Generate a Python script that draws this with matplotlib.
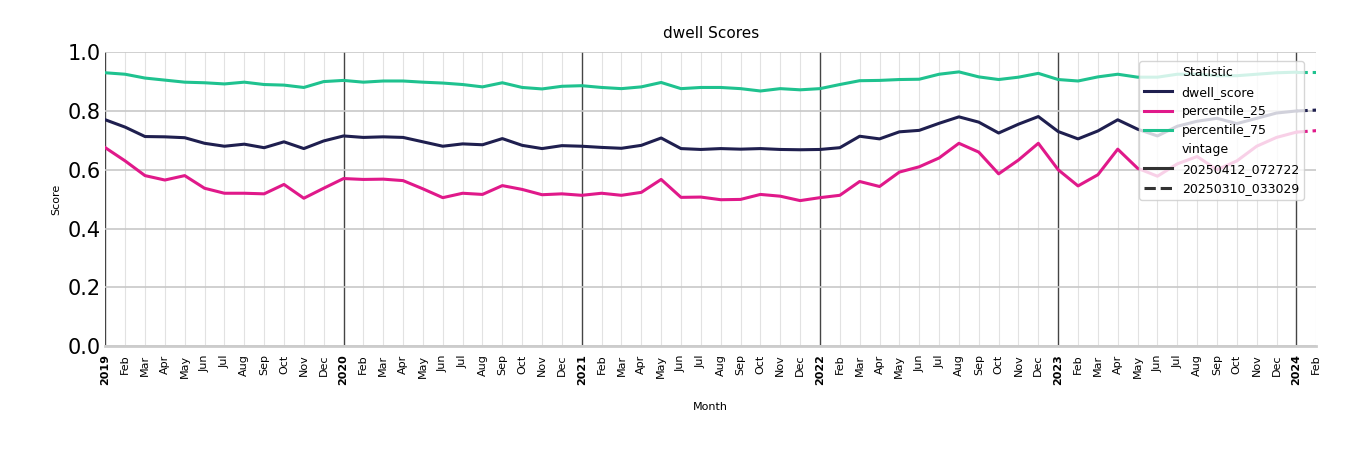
import numpy as np
import pandas as pd
import matplotlib.pyplot as plt
from matplotlib.lines import Line2D

months = pd.date_range("2019-01-01", "2024-02-01", freq="MS")

dwell_score = [
    0.77, 0.745, 0.713, 0.712, 0.709, 0.69, 0.68, 0.687, 0.675, 0.695, 0.672, 0.698,
    0.715, 0.71, 0.712, 0.71, 0.695, 0.68, 0.688, 0.685, 0.706, 0.683, 0.672, 0.682,
    0.68, 0.676, 0.673, 0.683, 0.708, 0.672, 0.669, 0.672, 0.67, 0.672, 0.669, 0.668,
    0.669, 0.675, 0.714, 0.705, 0.729, 0.734, 0.758, 0.78, 0.762, 0.725, 0.755, 0.781,
    0.73, 0.705, 0.732, 0.77, 0.738, 0.715, 0.748, 0.765, 0.775, 0.757, 0.775, 0.793,
    0.8, 0.803,
]
percentile_25 = [
    0.675, 0.63, 0.58, 0.565, 0.58, 0.537, 0.52, 0.52, 0.518, 0.55, 0.503, 0.537,
    0.57, 0.567, 0.568, 0.563, 0.535, 0.505, 0.52, 0.516, 0.546, 0.533, 0.515, 0.518,
    0.513, 0.52, 0.513, 0.523, 0.567, 0.506, 0.507, 0.498, 0.499, 0.516, 0.51, 0.495,
    0.505, 0.513, 0.56, 0.543, 0.592, 0.61, 0.64, 0.69, 0.66, 0.586, 0.633, 0.69,
    0.6, 0.545, 0.583, 0.67, 0.605, 0.578, 0.62, 0.645, 0.6, 0.63, 0.68, 0.71,
    0.728, 0.733,
]
percentile_75 = [
    0.93, 0.925, 0.912, 0.905, 0.898, 0.896, 0.892, 0.898, 0.89, 0.888, 0.88, 0.9,
    0.904, 0.898, 0.902, 0.902, 0.898, 0.895, 0.89, 0.882, 0.896, 0.88, 0.875, 0.884,
    0.886, 0.88, 0.876, 0.882, 0.897, 0.876, 0.88, 0.88, 0.876, 0.868, 0.876, 0.872,
    0.876, 0.89, 0.903, 0.904, 0.907, 0.908, 0.925, 0.933, 0.916, 0.907, 0.915, 0.928,
    0.907, 0.902, 0.916, 0.925, 0.915, 0.915, 0.925, 0.925, 0.92, 0.92, 0.925, 0.93,
    0.932, 0.932,
]

series = {"dwell_score": dwell_score, "percentile_25": percentile_25, "percentile_75": percentile_75}
colors = {"dwell_score": "#1f1f4f", "percentile_25": "#e0198a", "percentile_75": "#1fc28f"}

fig = plt.figure(figsize=(13.5, 4.5), dpi=100)
ax = fig.add_axes([0.078, 0.231, 0.897, 0.653])
x = np.arange(len(months))

for name, vals in series.items():
    # latest vintage through Jan 2024, older vintage for the last segment
    ax.plot(x[:-1], vals[:-1], color=colors[name], lw=2.2, zorder=3)
    ax.plot(x[-2:], vals[-2:], color=colors[name], lw=2.2, ls="--", zorder=3)

ax.set_xlim(0, len(months) - 1)
ax.set_ylim(0, 1.0)
ax.set_yticks(np.arange(0, 1.01, 0.2))
ax.set_yticklabels([f"{v:.1f}" for v in np.arange(0, 1.01, 0.2)], fontsize=15)
ax.grid(axis="y", color="#c8c8c8", lw=1.2)
for i, m in enumerate(months):
    if m.month == 1:
        ax.axvline(i, color="#444444", lw=1, zorder=1)
    else:
        ax.axvline(i, color="#e2e2e2", lw=0.8, zorder=1)

ax.set_xticks(x)
labels = [str(m.year) if m.month == 1 else m.strftime("%b") for m in months]
ax.set_xticklabels(labels, rotation=90, fontsize=8)
for lab, m in zip(ax.get_xticklabels(), months):
    if m.month == 1:
        lab.set_fontweight("bold")
ax.tick_params(axis="both", length=0)
ax.tick_params(axis="x", pad=6)
for s in ["top", "right", "left"]:
    ax.spines[s].set_visible(False)
ax.spines["bottom"].set_color("#cccccc")
ax.spines["bottom"].set_linewidth(2)

ax.set_title("dwell Scores", fontsize=11, pad=10)
ax.set_xlabel("Month", fontsize=8, labelpad=12)
ax.set_ylabel("Score", fontsize=8)

handles = [
    Line2D([], [], color="none", label="Statistic"),
    Line2D([], [], color=colors["dwell_score"], lw=2.2, label="dwell_score"),
    Line2D([], [], color=colors["percentile_25"], lw=2.2, label="percentile_25"),
    Line2D([], [], color=colors["percentile_75"], lw=2.2, label="percentile_75"),
    Line2D([], [], color="none", label="vintage"),
    Line2D([], [], color="#333333", lw=2.2, label="20250412_072722"),
    Line2D([], [], color="#333333", lw=2.2, ls="--", label="20250310_033029"),
]
ax.legend(handles=handles, loc="upper right", bbox_to_anchor=(0.995, 0.99),
          fontsize=9, framealpha=0.8, handlelength=2.2)

fig.savefig("out.png")
